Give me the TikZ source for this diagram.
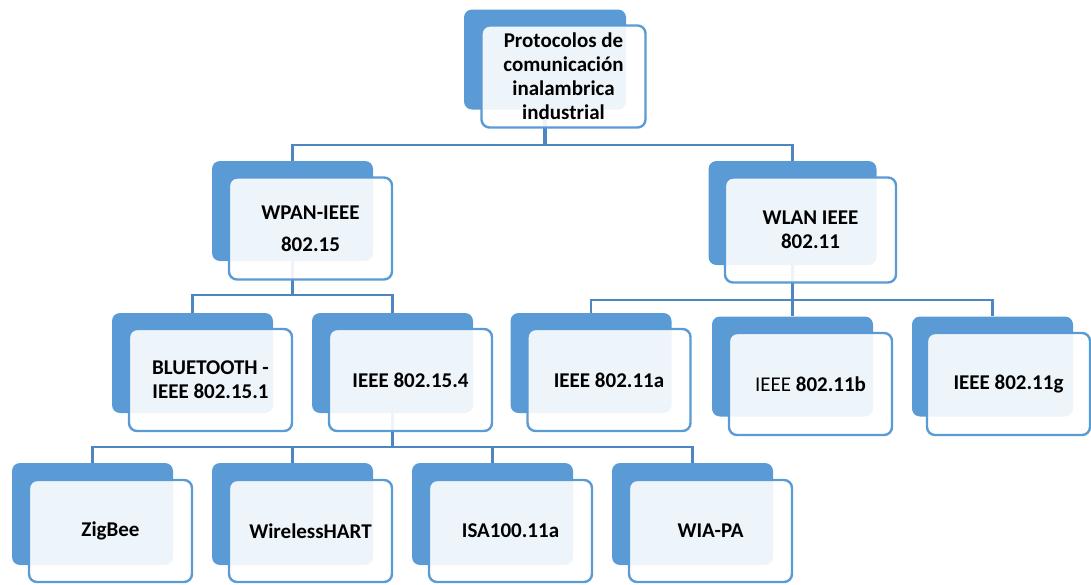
\documentclass[tikz,border=0pt]{standalone}
\usepackage{fontspec}
\setmainfont{Carlito}
\usetikzlibrary{positioning}

\definecolor{smblue}{HTML}{5B9BD5}
\definecolor{smline}{HTML}{4D86C0}

\tikzset{
  back/.style={fill=smblue, rounded corners=8pt, minimum width=161pt, minimum height=100pt, inner sep=0pt},
  front/.style={draw=smblue, line width=2.4pt, fill=white, fill opacity=0.9, text opacity=1,
    rounded corners=8pt, minimum width=163pt, minimum height=102pt, inner sep=0pt,
    align=center, font=\bfseries\fontsize{21}{24}\selectfont},
  link/.style={draw=smline, line width=2.2pt},
  drop/.style={draw=smline, line width=3.6pt},
}

\begin{document}
\begin{tikzpicture}[x=1pt, y=-1pt]
\useasboundingbox (0,0) rectangle (1091,584);
% back boxes
\node[back, minimum width=162pt] (proto) at (545,59.5) {};
\node[back] (wpan) at (292.5,211) {};
\node[back, minimum width=168pt, minimum height=104pt] (wlan) at (792.5,213) {};
\node[back] (bt) at (192.5,363) {};
\node[back] (i154) at (392.5,363) {};
\node[back] (i11a) at (591,363) {};
\node[back] (i11b) at (792.5,366.5) {};
\node[back] (i11g) at (992.5,366.5) {};
\foreach \n/\c in {zigbee/92.5, whart/292.5, isa/492.5, wia/692.5}
  \node[back, minimum height=102pt] (\n) at (\c,514) {};
% connectors
\coordinate (bus1) at (545,145);
\coordinate (bus2) at (292.5,295);
\coordinate (bus3) at (792.5,300);
\coordinate (bus4) at (392.5,447);
\draw[drop] (proto.south) -- (bus1);
\draw[link] (wpan.north) |- (bus1) -| (wlan.north);
\draw[link] (wpan.south) -- (bus2);
\draw[link] (bt.north) |- (bus2) -| (i154.north);
\draw[link] (wlan.south) -- (bus3);
\draw[link] (i11a.north) |- (bus3) -| (i11g.north);
\draw[link] (bus3) -- (i11b.north);
\draw[drop] (i154.south) -- (bus4);
\draw[link] (zigbee.north) |- (bus4) -| (wia.north);
\draw[link] (whart.north) -- (whart.north |- bus4);
\draw[link] (isa.north) -- (isa.north |- bus4);
% front boxes
\node[front, minimum width=164pt] (proto-t) at (563.5,76.5) {Protocolos de\\comunicación\\inalambrica\\industrial};
\node[front] (wpan-t) at (310.5,228.5) {WPAN-IEEE\\[8pt]802.15};
\node[front, minimum width=171pt, minimum height=105pt] (wlan-t) at (810.5,230) {WLAN IEEE\\802.11};
\node[front] (bt-t) at (210.5,380) {BLUETOOTH -\\IEEE 802.15.1};
\node[front] (i154-t) at (410.5,380) {IEEE 802.15.4};
\node[front] (i11a-t) at (609,380) {IEEE 802.11a};
\node[front] (i11b-t) at (810.5,384) {\mdseries IEEE \bfseries 802.11b};
\node[front] (i11g-t) at (1008.5,384) {IEEE 802.11g};
\foreach \n/\c/\t in {zigbee/110.5/ZigBee, whart/310.5/WirelessHART, isa/510.5/ISA100.11a, wia/710.5/WIA-PA}
  \node[front] (\n-t) at (\c,531) {\t};
\end{tikzpicture}
\end{document}
